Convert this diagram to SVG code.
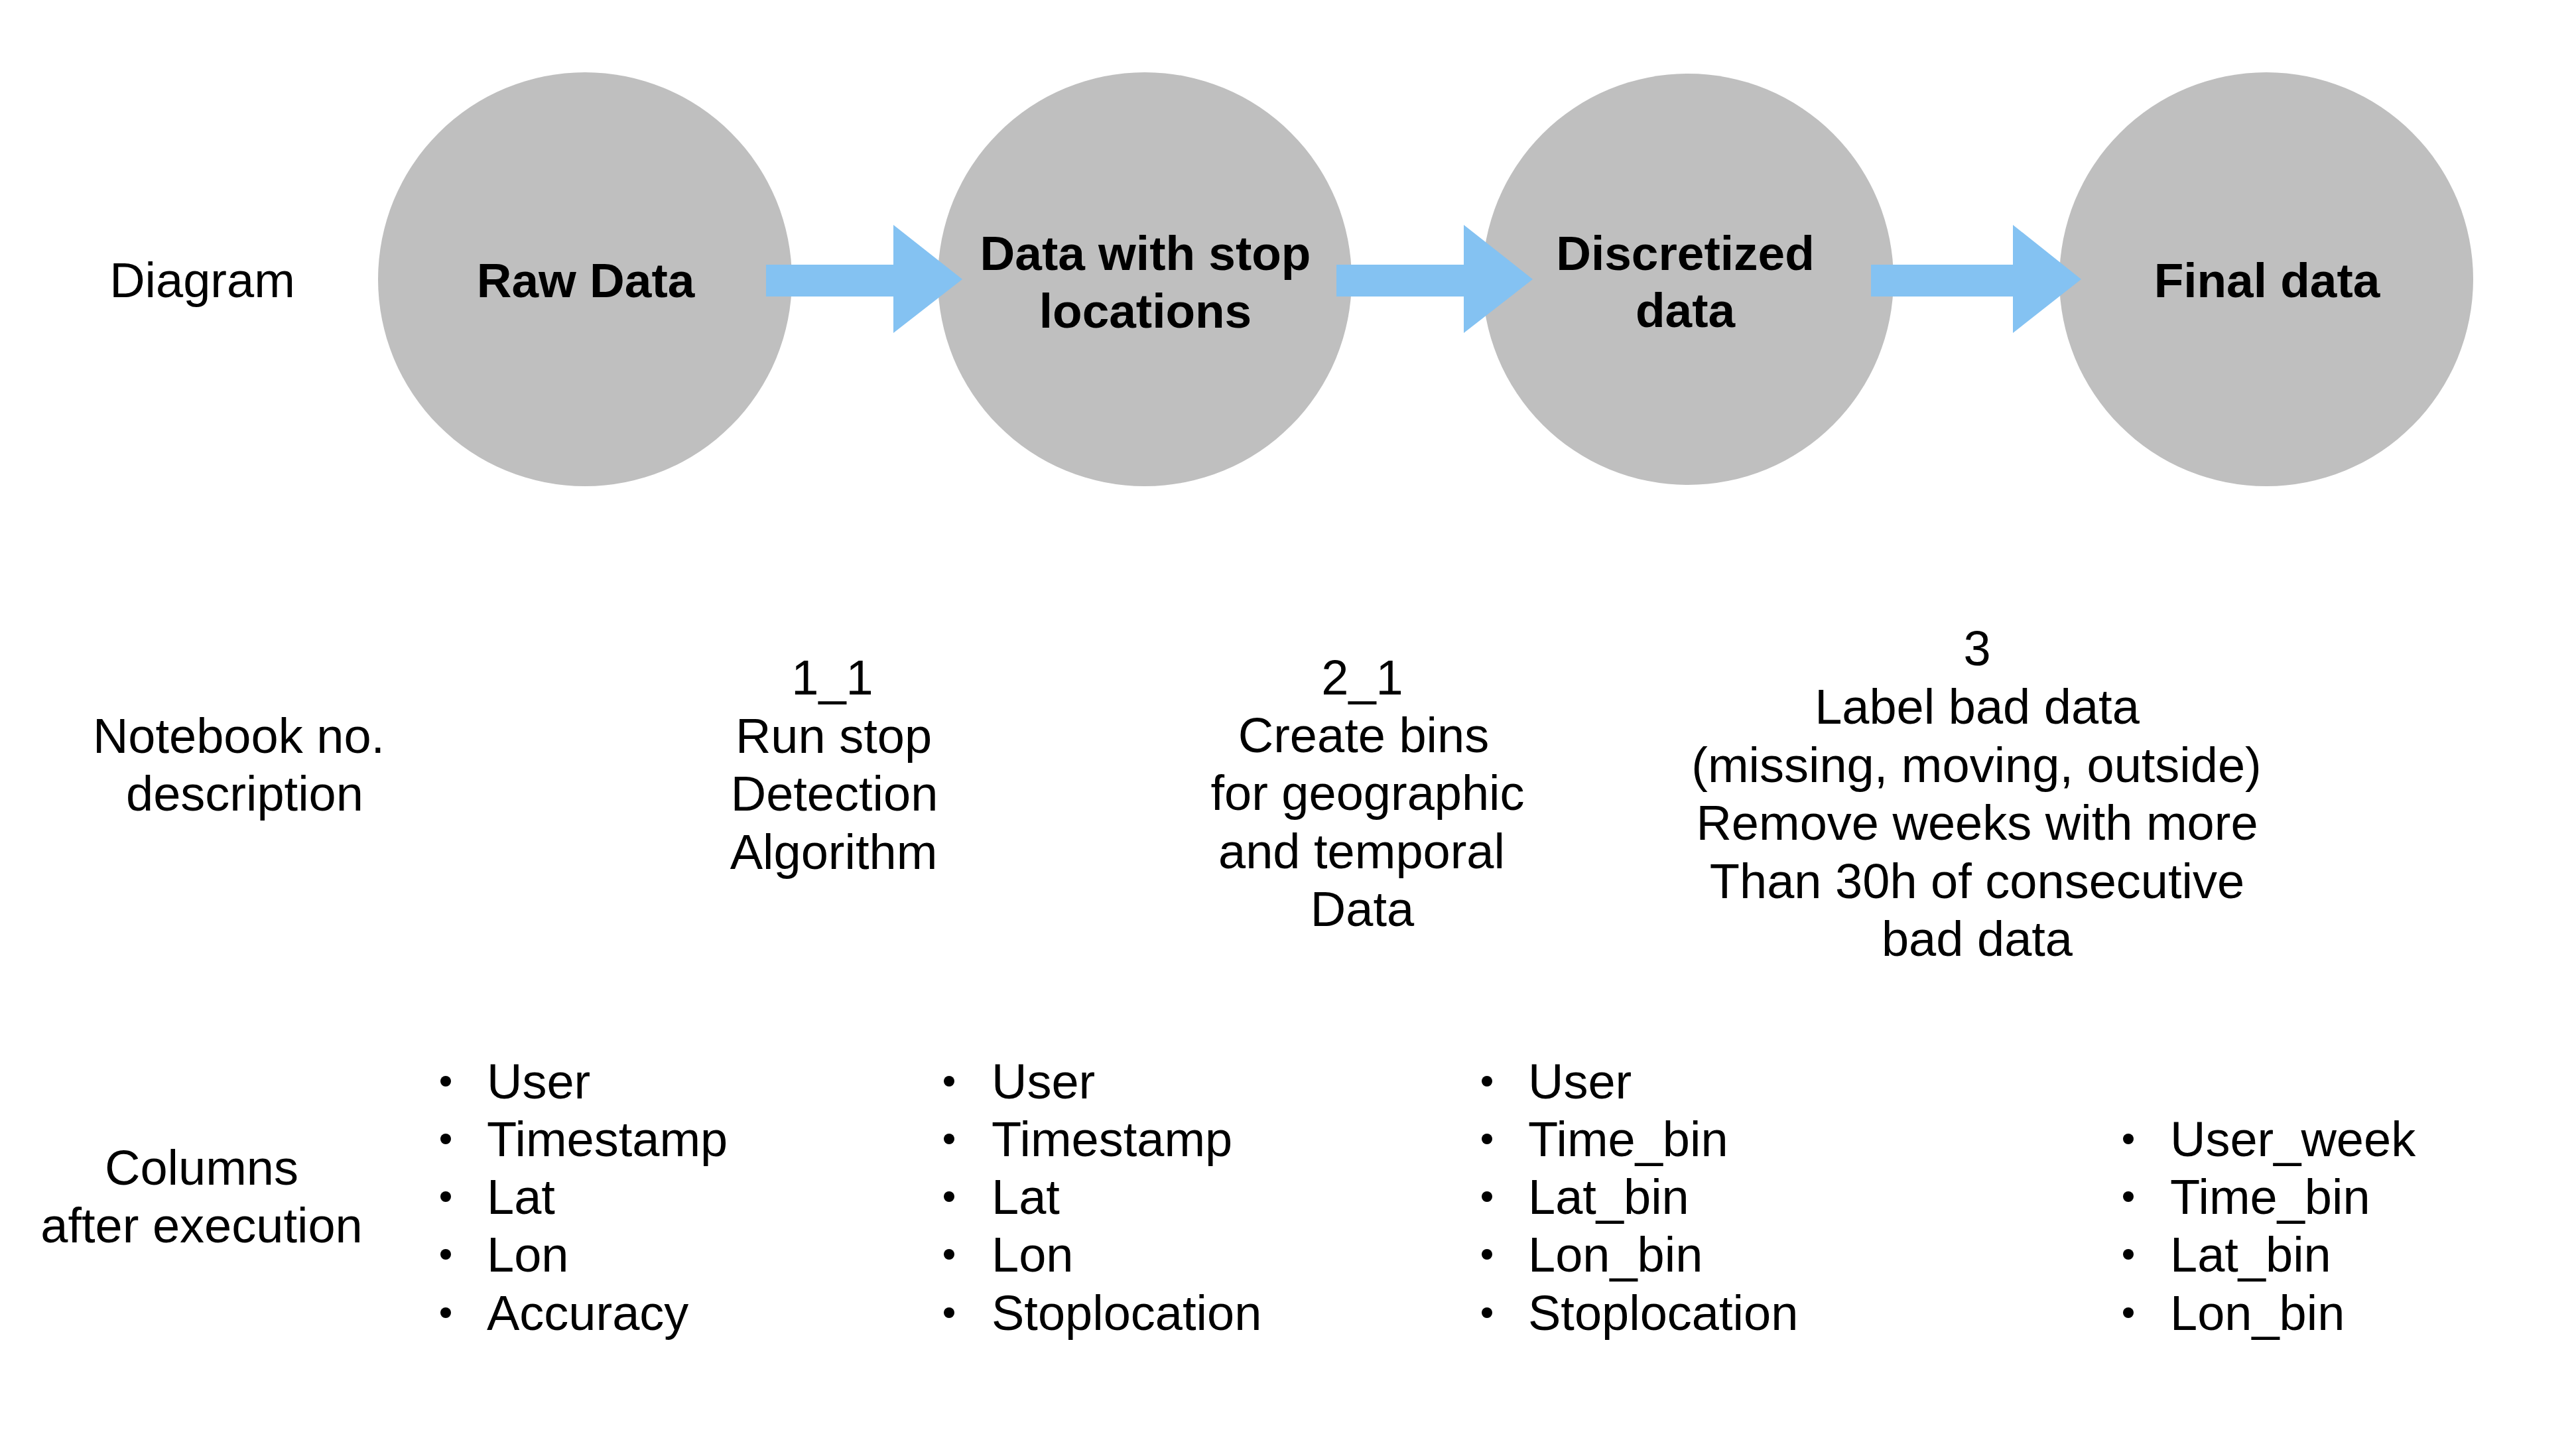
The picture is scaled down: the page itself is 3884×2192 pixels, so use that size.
<svg xmlns="http://www.w3.org/2000/svg" width="3884" height="2192" viewBox="0 0 3884 2192">
  <style>
    .bg { fill: #ffffff; }
    .node { fill: #BFBFBF; }
    .arrow { fill: #84C2F2; }
    .t { font-family: "Liberation Sans", Arial, sans-serif; font-size: 74px; fill: #000000; }
    .c { text-anchor: middle; }
    .b { font-family: "Liberation Sans", Arial, sans-serif; font-size: 73px; font-weight: bold; fill: #000000; text-anchor: middle; }
    .dot { fill: #000000; }
  </style>
  <rect class="bg" x="0" y="0" width="3884" height="2192"/>

  <!-- Row labels -->
  <g id="row-labels">
    <text class="t c" x="305" y="448">Diagram</text>
    <text class="t c" x="360" y="1135">Notebook no.</text>
    <text class="t c" x="369" y="1222">description</text>
    <text class="t c" x="304" y="1786">Columns</text>
    <text class="t c" x="304" y="1873">after execution</text>
  </g>

  <!-- Nodes -->
  <g id="node-raw">
    <circle class="node" cx="882" cy="421" r="312"/>
    <text class="b" x="883" y="448">Raw Data</text>
  </g>
  <g id="node-stop">
    <circle class="node" cx="1726" cy="421" r="312"/>
    <text class="b" x="1727" y="407">Data with stop</text>
    <text class="b" x="1727" y="494">locations</text>
  </g>
  <g id="node-discretized">
    <circle class="node" cx="2545" cy="421" r="310"/>
    <text class="b" x="2541" y="407">Discretized</text>
    <text class="b" x="2541" y="493">data</text>
  </g>
  <g id="node-final">
    <circle class="node" cx="3417" cy="421" r="312"/>
    <text class="b" x="3418" y="448">Final data</text>
  </g>

  <!-- Connectors -->
  <g id="connectors">
    <polygon class="arrow" points="1155,399 1347,399 1347,339 1451,421 1347,502 1347,447 1155,447"/>
    <polygon class="arrow" points="2015,399 2207,399 2207,339 2311,421 2207,502 2207,447 2015,447"/>
    <polygon class="arrow" points="2821,399 3035,399 3035,339 3138,421 3035,502 3035,447 2821,447"/>
  </g>

  <!-- Notebook descriptions -->
  <g id="nb-1-1">
    <text class="t c" x="1255" y="1047">1_1</text>
    <text class="t c" x="1257" y="1135">Run stop</text>
    <text class="t c" x="1258" y="1222">Detection</text>
    <text class="t c" x="1257" y="1310">Algorithm</text>
  </g>
  <g id="nb-2-1">
    <text class="t c" x="2054" y="1047">2_1</text>
    <text class="t c" x="2056" y="1134">Create bins</text>
    <text class="t c" x="2062" y="1221">for geographic</text>
    <text class="t c" x="2053" y="1309">and temporal</text>
    <text class="t c" x="2054" y="1396">Data</text>
  </g>
  <g id="nb-3">
    <text class="t c" x="2981" y="1003">3</text>
    <text class="t c" x="2981" y="1091">Label bad data</text>
    <text class="t c" x="2980" y="1179">(missing, moving, outside)</text>
    <text class="t c" x="2981" y="1266">Remove weeks with more</text>
    <text class="t c" x="2981" y="1354">Than 30h of consecutive</text>
    <text class="t c" x="2981" y="1441">bad data</text>
  </g>

  <!-- Column lists -->
  <g id="cols-raw">
    <circle class="dot" cx="672" cy="1630" r="8"/>
    <circle class="dot" cx="672" cy="1717" r="8"/>
    <circle class="dot" cx="672" cy="1804" r="8"/>
    <circle class="dot" cx="672" cy="1891" r="8"/>
    <circle class="dot" cx="672" cy="1979" r="8"/>
    <text class="t" x="734" y="1656">User</text>
    <text class="t" x="734" y="1743">Timestamp</text>
    <text class="t" x="734" y="1830">Lat</text>
    <text class="t" x="734" y="1917">Lon</text>
    <text class="t" x="734" y="2005">Accuracy</text>
  </g>
  <g id="cols-stop">
    <circle class="dot" cx="1431" cy="1630" r="8"/>
    <circle class="dot" cx="1431" cy="1717" r="8"/>
    <circle class="dot" cx="1431" cy="1804" r="8"/>
    <circle class="dot" cx="1431" cy="1891" r="8"/>
    <circle class="dot" cx="1431" cy="1979" r="8"/>
    <text class="t" x="1495" y="1656">User</text>
    <text class="t" x="1495" y="1743">Timestamp</text>
    <text class="t" x="1495" y="1830">Lat</text>
    <text class="t" x="1495" y="1917">Lon</text>
    <text class="t" x="1495" y="2005">Stoplocation</text>
  </g>
  <g id="cols-discretized">
    <circle class="dot" cx="2242" cy="1630" r="8"/>
    <circle class="dot" cx="2242" cy="1717" r="8"/>
    <circle class="dot" cx="2242" cy="1804" r="8"/>
    <circle class="dot" cx="2242" cy="1891" r="8"/>
    <circle class="dot" cx="2242" cy="1979" r="8"/>
    <text class="t" x="2304" y="1656">User</text>
    <text class="t" x="2304" y="1743">Time_bin</text>
    <text class="t" x="2304" y="1830">Lat_bin</text>
    <text class="t" x="2304" y="1917">Lon_bin</text>
    <text class="t" x="2304" y="2005">Stoplocation</text>
  </g>
  <g id="cols-final">
    <circle class="dot" cx="3209" cy="1717" r="8"/>
    <circle class="dot" cx="3209" cy="1804" r="8"/>
    <circle class="dot" cx="3209" cy="1891" r="8"/>
    <circle class="dot" cx="3209" cy="1979" r="8"/>
    <text class="t" x="3272" y="1743">User_week</text>
    <text class="t" x="3272" y="1830">Time_bin</text>
    <text class="t" x="3272" y="1917">Lat_bin</text>
    <text class="t" x="3272" y="2005">Lon_bin</text>
  </g>
</svg>
